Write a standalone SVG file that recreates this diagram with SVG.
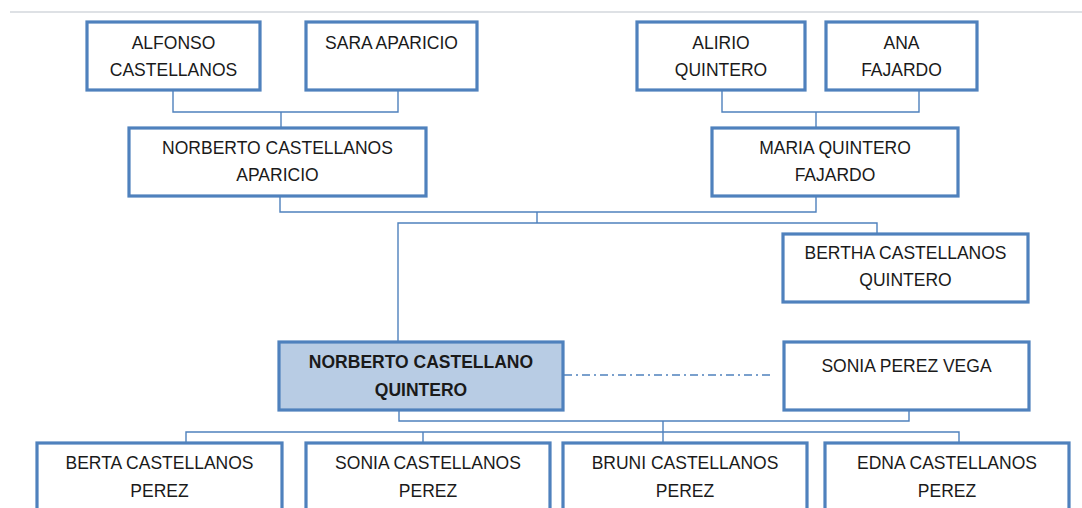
<svg xmlns="http://www.w3.org/2000/svg" width="1082" height="508" viewBox="0 0 1082 508">
<style>
.box{fill:#ffffff;stroke:#4f81bd;stroke-width:3.2}
.sel{fill:#b8cce4;stroke:#4f81bd;stroke-width:3.2}
.t{font-family:"Liberation Sans",Arial,sans-serif;font-size:17.5px;fill:#1a1a1a;text-anchor:middle}
.b{font-weight:bold}
.c{fill:none;stroke:#4f81bd;stroke-width:1.4}
</style>
<rect x="0" y="0" width="1082" height="508" fill="#ffffff"/>
<line x1="10" y1="12" x2="1082" y2="12" stroke="#d3d7dd" stroke-width="1.5"/>
<g id="connectors">
<path class="c" d="M173 90V112H398V90M281 112V127"/>
<path class="c" d="M722 90V112H919V90M816 112V127"/>
<path class="c" d="M280 197V212H816V197M537 212V223M398 342V223H877V233"/>
<path class="c" d="M564 375H772" stroke-dasharray="8 4 2 4"/>
<path class="c" d="M399 411V421H909V411M663 421V442"/>
<path class="c" d="M186 442V432H959V442M423 432V442"/>
</g>
<g id="alfonso"><rect class="box" x="87" y="22" width="173" height="68"/><text class="t" x="173.5" y="49">ALFONSO</text><text class="t" x="173.5" y="76">CASTELLANOS</text></g>
<g id="sara"><rect class="box" x="306" y="22" width="171" height="68"/><text class="t" x="391.5" y="49">SARA APARICIO</text></g>
<g id="alirio"><rect class="box" x="637" y="22" width="168" height="68"/><text class="t" x="721" y="49">ALIRIO</text><text class="t" x="721" y="76">QUINTERO</text></g>
<g id="ana"><rect class="box" x="826" y="22" width="151" height="68"/><text class="t" x="901.5" y="49">ANA</text><text class="t" x="901.5" y="76">FAJARDO</text></g>
<g id="norberto-ca"><rect class="box" x="129" y="128" width="297" height="68"/><text class="t" x="277.5" y="154">NORBERTO CASTELLANOS</text><text class="t" x="277.5" y="181">APARICIO</text></g>
<g id="maria"><rect class="box" x="712" y="128" width="246" height="68"/><text class="t" x="835" y="154">MARIA QUINTERO</text><text class="t" x="835" y="181">FAJARDO</text></g>
<g id="bertha"><rect class="box" x="783" y="234" width="245" height="68"/><text class="t" x="905.5" y="259">BERTHA CASTELLANOS</text><text class="t" x="905.5" y="286">QUINTERO</text></g>
<g id="norberto-cq"><rect class="sel" x="279" y="342" width="284" height="68"/><text class="t b" x="421" y="368">NORBERTO CASTELLANO</text><text class="t b" x="421" y="396">QUINTERO</text></g>
<g id="sonia-pv"><rect class="box" x="784" y="342" width="245" height="68"/><text class="t" x="906.5" y="372">SONIA PEREZ VEGA</text></g>
<g id="berta"><rect class="box" x="37" y="443" width="245" height="80"/><text class="t" x="159.5" y="469">BERTA CASTELLANOS</text><text class="t" x="159.5" y="497">PEREZ</text></g>
<g id="sonia-c"><rect class="box" x="306" y="443" width="244" height="80"/><text class="t" x="428" y="469">SONIA CASTELLANOS</text><text class="t" x="428" y="497">PEREZ</text></g>
<g id="bruni"><rect class="box" x="563" y="443" width="244" height="80"/><text class="t" x="685" y="469">BRUNI CASTELLANOS</text><text class="t" x="685" y="497">PEREZ</text></g>
<g id="edna"><rect class="box" x="825" y="443" width="244" height="80"/><text class="t" x="947" y="469">EDNA CASTELLANOS</text><text class="t" x="947" y="497">PEREZ</text></g>
</svg>
